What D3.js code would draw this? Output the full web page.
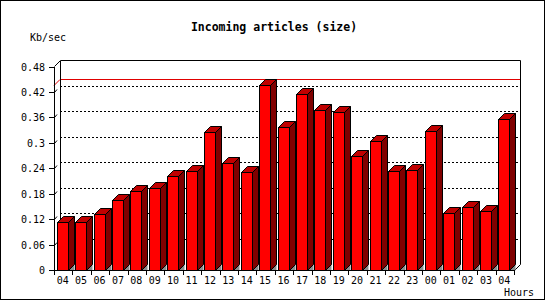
<!DOCTYPE html>
<html>
<head>
<meta charset="utf-8">
<script src="https://cdn.jsdelivr.net/npm/d3@7"></script>
<style>
  body { margin: 0; background: #fff; }
  text { font-family: "DejaVu Sans Mono", monospace; fill: #000; }
</style>
</head>
<body>
<div id="chart"></div>
<script>
// hours along the bottom, first to last
var hours = ["04","05","06","07","08","09","10","11","12","13","14","15","16",
             "17","18","19","20","21","22","23","00","01","02","03","04"];
// incoming size, Kb/sec
var kbps = [0.113, 0.113, 0.132, 0.166, 0.187, 0.193, 0.222, 0.234, 0.326, 0.252,
            0.231, 0.436, 0.338, 0.414, 0.378, 0.373, 0.268, 0.305, 0.234, 0.236,
            0.329, 0.135, 0.149, 0.140, 0.357];
var yTicks = [0, 0.06, 0.12, 0.18, 0.24, 0.3, 0.36, 0.42, 0.48];

var width = 550, height = 300;
var depth = 6;   // 3d offset
// plot box (front face); "top" is taken by window.top so use other names
var pLeft = 54, pRight = 514, pBottom = 270, pTop = 66.5;

var svg = d3.select("#chart").append("svg")
  .attr("width", width)
  .attr("height", height);

// outer frame
svg.append("rect")
  .attr("x", 0.5).attr("y", 0.5)
  .attr("width", 544).attr("height", 299)
  .attr("fill", "none").attr("stroke", "#000");

var x = d3.scaleBand()
  .domain(d3.range(hours.length))
  .range([pLeft, pRight])
  .padding(0);

var y = d3.scaleLinear()
  .domain([0, 0.48])
  .range([pBottom, pTop]);

var bw = x.bandwidth();

var g = svg.append("g");

// back plane grid (dotted)
g.selectAll("line.grid")
  .data(yTicks.filter(function(d) { return d > 0 && d < 0.48; }))
  .enter().append("line")
  .attr("class", "grid")
  .attr("x1", pLeft + depth).attr("x2", pRight + depth)
  .attr("y1", function(d) { return Math.round(y(d)) - depth + 0.5; })
  .attr("y2", function(d) { return Math.round(y(d)) - depth + 0.5; })
  .attr("stroke", "#000")
  .attr("stroke-dasharray", "2,2")
  .attr("shape-rendering", "crispEdges");

// max line
var maxV = d3.max(kbps);
var my = Math.round(y(maxV)) + 0.5;
g.append("line")
  .attr("x1", pLeft + depth).attr("x2", pRight + depth)
  .attr("y1", my - depth).attr("y2", my - depth)
  .attr("stroke", "#e00000").attr("shape-rendering", "crispEdges");
g.append("line")
  .attr("x1", pLeft).attr("y1", my)
  .attr("x2", pLeft + depth).attr("y2", my - depth)
  .attr("stroke", "#e00000");

// back frame
g.append("path")
  .attr("d", "M" + (pLeft + 0.5) + "," + (pTop) +
             "L" + (pLeft + depth + 0.5) + "," + (pTop - depth) +
             "H" + (pRight + depth + 0.5) +
             "V" + (pBottom - depth + 0.5) +
             "L" + (pRight + 0.5) + "," + (pBottom + 0.5))
  .attr("fill", "none").attr("stroke", "#000");
g.append("line")
  .attr("x1", pLeft + depth + 0.5).attr("x2", pLeft + depth + 0.5)
  .attr("y1", pTop - depth).attr("y2", pBottom - depth)
  .attr("stroke", "#000").attr("shape-rendering", "crispEdges");

// bars
var bars = g.selectAll("g.bar")
  .data(kbps)
  .enter().append("g")
  .attr("class", "bar");

bars.each(function(v, i) {
  var b = d3.select(this);
  var x0 = Math.round(x(i) + bw * 0.15) + 0.5;
  var x1 = x0 + Math.round(bw * 0.58);
  var yt = Math.round(y(v)) + 0.5;
  var yb = pBottom + 0.5;

  // floor bit under the side
  b.append("path")
    .attr("d", "M" + x1 + "," + yb + "L" + (x1 + depth) + "," + (yb - depth) +
               "L" + (x1 + depth) + "," + yb + "Z")
    .attr("fill", "#8c8c8c");
  // side
  b.append("path")
    .attr("d", "M" + x1 + "," + yt + "L" + (x1 + depth) + "," + (yt - depth) +
               "L" + (x1 + depth) + "," + (yb - depth) + "L" + x1 + "," + yb + "Z")
    .attr("fill", "#800000").attr("stroke", "#000");
  // top
  b.append("path")
    .attr("d", "M" + x0 + "," + yt + "L" + (x0 + depth) + "," + (yt - depth) +
               "L" + (x1 + depth) + "," + (yt - depth) + "L" + x1 + "," + yt + "Z")
    .attr("fill", "#c00000").attr("stroke", "#000");
  // front
  b.append("rect")
    .attr("x", x0).attr("y", yt)
    .attr("width", x1 - x0).attr("height", yb - yt)
    .attr("fill", "#ff0000").attr("stroke", "#000");
});

// y axis
var yAxis = g.append("g");
yAxis.append("line")
  .attr("x1", pLeft + 0.5).attr("x2", pLeft + 0.5)
  .attr("y1", pTop).attr("y2", pBottom + 0.5)
  .attr("stroke", "#000").attr("shape-rendering", "crispEdges");
yAxis.selectAll("line.tick")
  .data(yTicks)
  .enter().append("line")
  .attr("class", "tick")
  .attr("x1", pLeft - 5).attr("x2", pLeft)
  .attr("y1", function(d) { return Math.round(y(d)) + 0.5; })
  .attr("y2", function(d) { return Math.round(y(d)) + 0.5; })
  .attr("stroke", "#000").attr("shape-rendering", "crispEdges");
yAxis.selectAll("line.slash")
  .data(yTicks.filter(function(d) { return d > 0 && d < 0.48; }))
  .enter().append("line")
  .attr("class", "slash")
  .attr("x1", pLeft + 0.5).attr("x2", pLeft + 3)
  .attr("y1", function(d) { return Math.round(y(d)) + 0.5; })
  .attr("y2", function(d) { return Math.round(y(d)) - 2.5; })
  .attr("stroke", "#000");
yAxis.selectAll("text")
  .data(yTicks)
  .enter().append("text")
  .attr("x", 45)
  .attr("y", function(d) { return y(d) + 4; })
  .attr("text-anchor", "end")
  .style("font-size", "10px")
  .text(function(d) { return String(d); });

// x axis
var xAxis = g.append("g");
xAxis.append("line")
  .attr("x1", pLeft).attr("x2", pRight + 1)
  .attr("y1", pBottom + 0.5).attr("y2", pBottom + 0.5)
  .attr("stroke", "#000").attr("shape-rendering", "crispEdges");
xAxis.selectAll("line.tick")
  .data(d3.range(hours.length + 1))
  .enter().append("line")
  .attr("class", "tick")
  .attr("x1", function(i) { return Math.round(pLeft + i * bw) + 0.5; })
  .attr("x2", function(i) { return Math.round(pLeft + i * bw) + 0.5; })
  .attr("y1", pBottom).attr("y2", pBottom + 5)
  .attr("stroke", "#000").attr("shape-rendering", "crispEdges");
xAxis.selectAll("text")
  .data(hours)
  .enter().append("text")
  .attr("x", function(d, i) { return x(i) + bw / 2 - 0.5; })
  .attr("y", 284)
  .attr("text-anchor", "middle")
  .style("font-size", "10px")
  .text(function(d) { return d; });

// titles
svg.append("text")
  .attr("x", 274).attr("y", 31)
  .attr("text-anchor", "middle")
  .style("font-size", "11.5px")
  .style("font-weight", "bold")
  .text("Incoming articles (size)");
svg.append("text")
  .attr("x", 30).attr("y", 40.5)
  .style("font-size", "10px")
  .text("Kb/sec");
svg.append("text")
  .attr("x", 534).attr("y", 296)
  .attr("text-anchor", "end")
  .style("font-size", "10px")
  .text("Hours");
</script>
</body>
</html>
